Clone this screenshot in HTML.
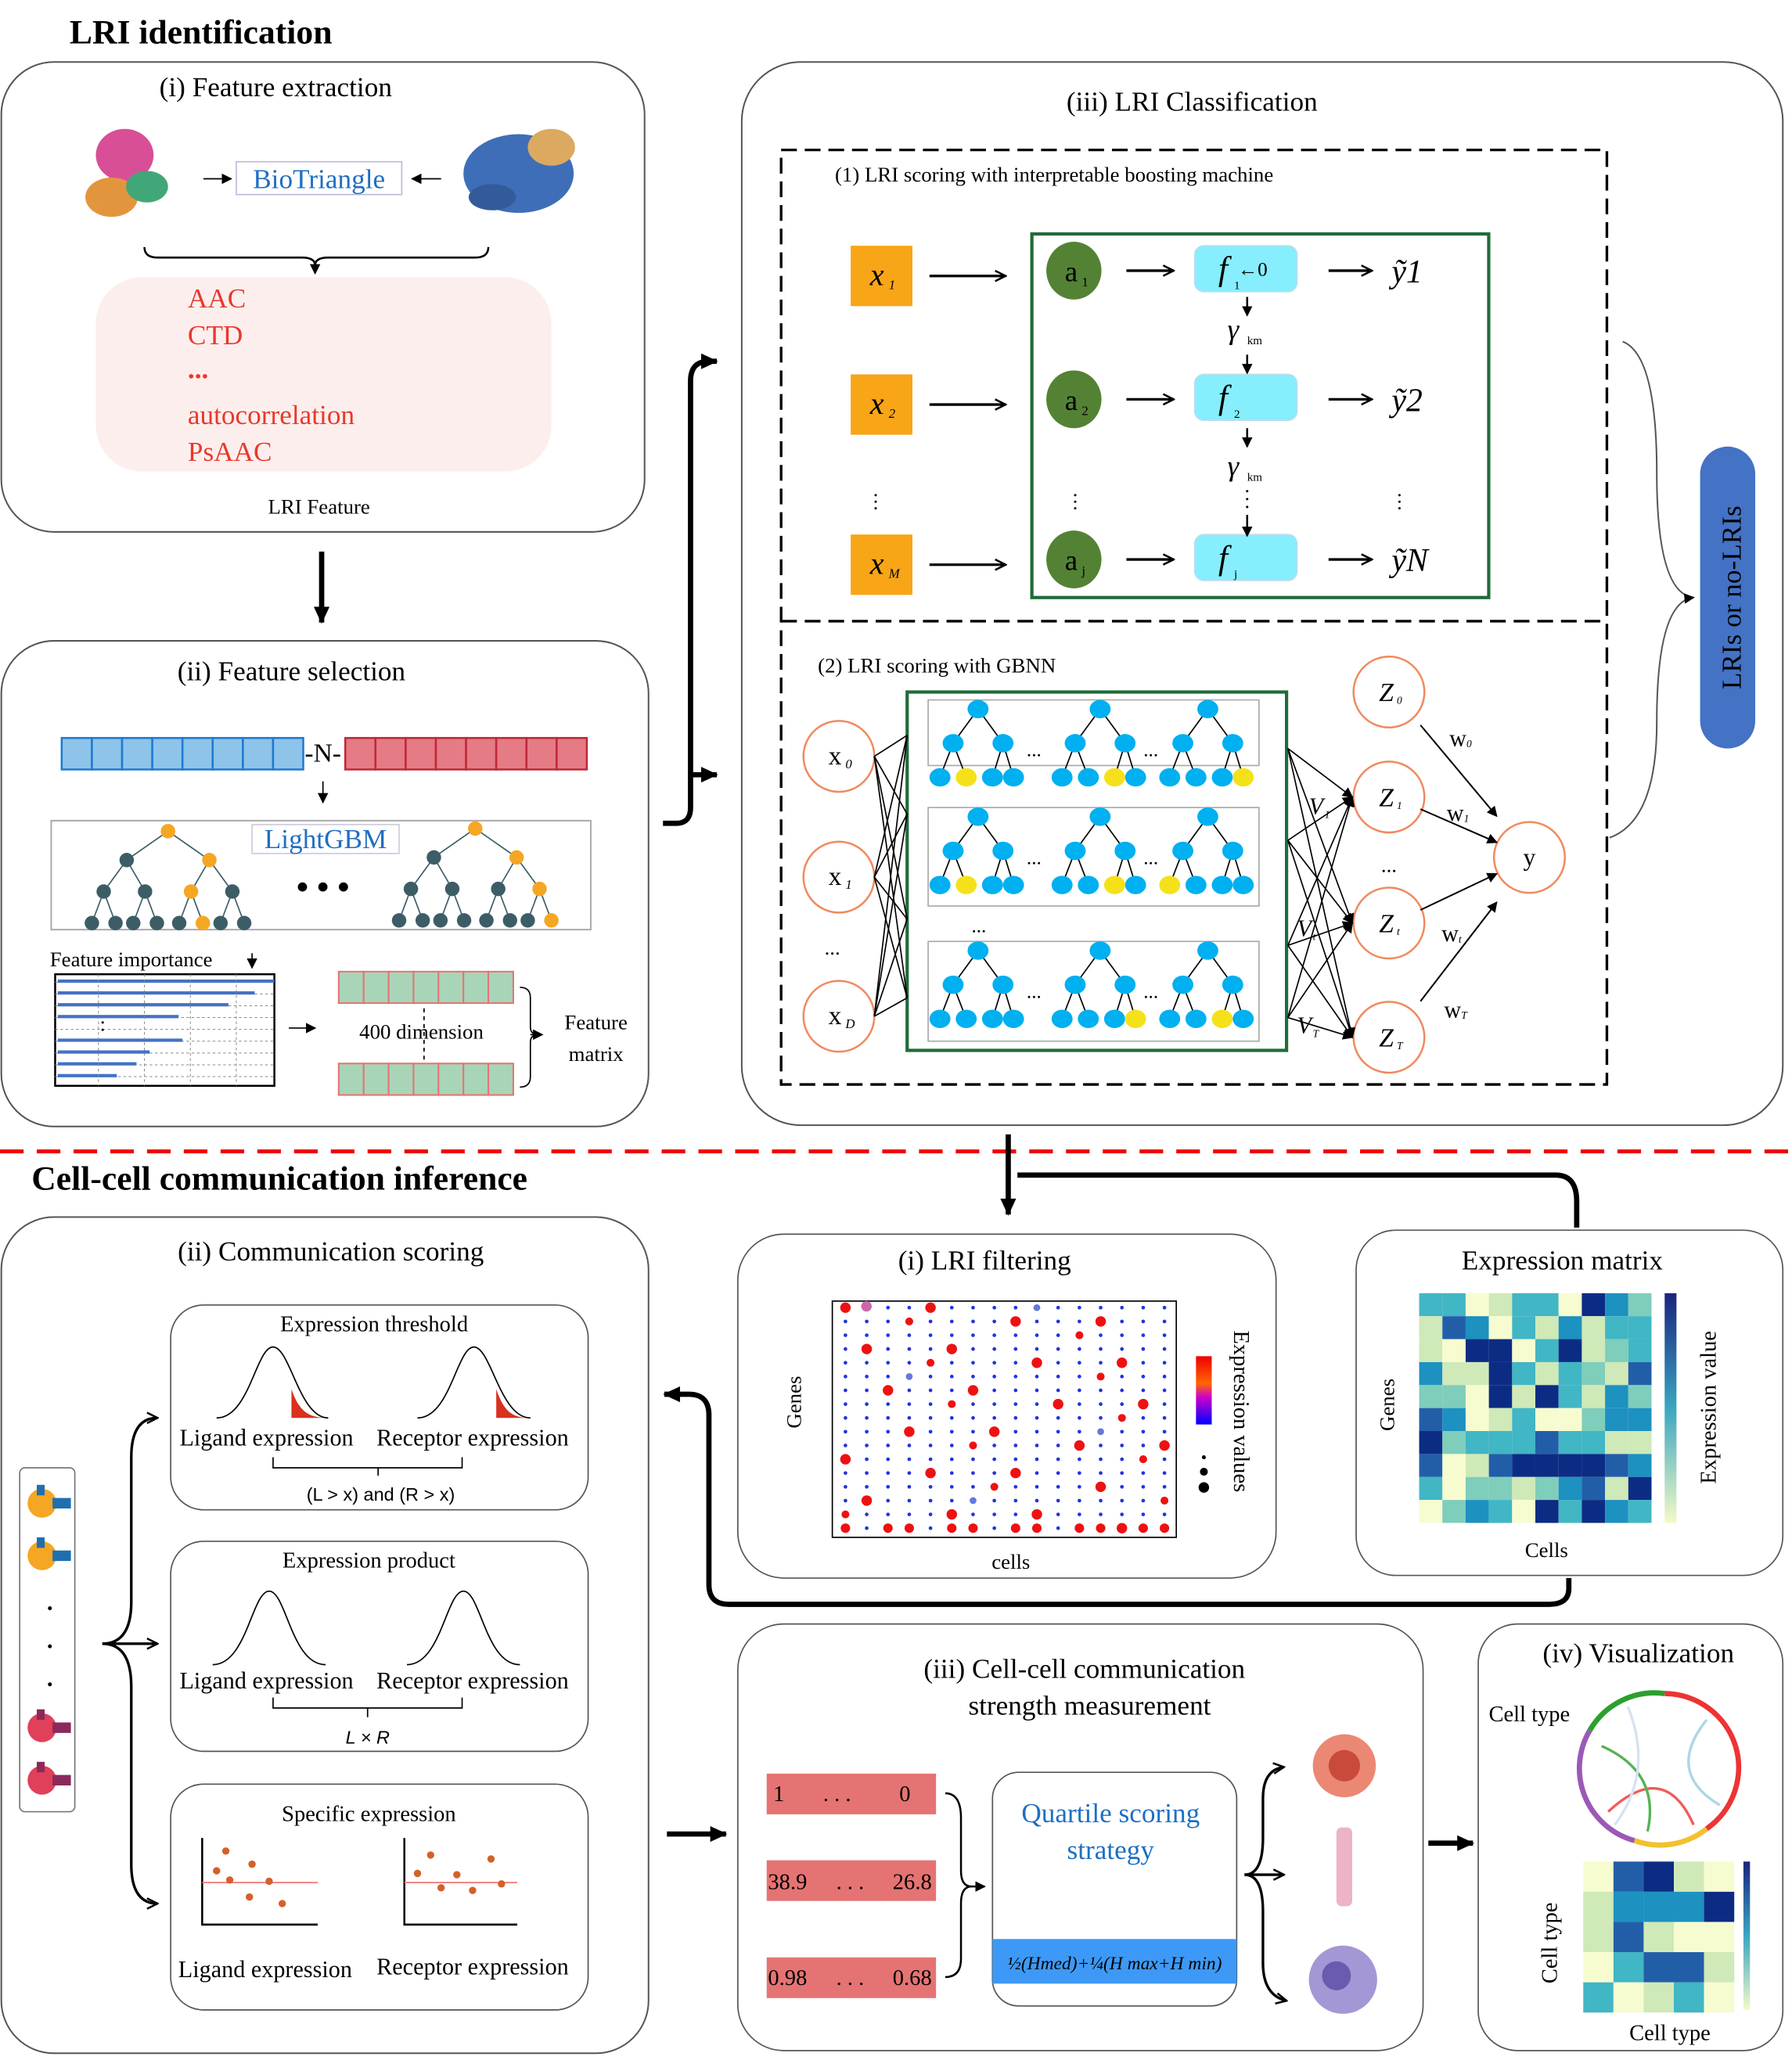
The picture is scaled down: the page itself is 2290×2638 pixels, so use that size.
<!DOCTYPE html>
<html><head><meta charset="utf-8">
<style>
html,body{margin:0;padding:0;background:#fff}
svg{display:block}
text{font-family:"Liberation Serif",serif}
.sans{font-family:"Liberation Sans",sans-serif}
</style></head>
<body>
<svg id="s" width="2290" height="2638" viewBox="0 0 1365 1572" xmlns="http://www.w3.org/2000/svg">
<defs>
<marker id="ah" markerWidth="8" markerHeight="8" refX="7" refY="4" orient="auto" markerUnits="userSpaceOnUse"><path d="M0,0 L8,4 L0,8 z" fill="#000"/></marker>
<marker id="ahs" markerWidth="10" markerHeight="10" refX="9" refY="5" orient="auto" markerUnits="userSpaceOnUse"><path d="M1,1 L9,5 L1,9" fill="none" stroke="#000" stroke-width="1.5"/></marker>
<marker id="ahb" markerWidth="14" markerHeight="14" refX="12" refY="7" orient="auto" markerUnits="userSpaceOnUse"><path d="M0,1 L13,7 L0,13 z" fill="#000"/></marker>
<linearGradient id="rb" x1="0" y1="0" x2="0" y2="1"><stop offset="0" stop-color="#e00"/><stop offset=".4" stop-color="#f60"/><stop offset=".6" stop-color="#c0c"/><stop offset="1" stop-color="#00f"/></linearGradient>
<linearGradient id="bl" x1="0" y1="0" x2="0" y2="1"><stop offset="0" stop-color="#1a237e"/><stop offset=".5" stop-color="#3aa6c0"/><stop offset="1" stop-color="#f4f9c8"/></linearGradient>
</defs>

<text x="53" y="33" font-size="26" font-weight="bold">LRI identification</text>
<text x="24" y="906" font-size="26" font-weight="bold">Cell-cell communication inference</text>
<line x1="0" y1="877" x2="1365" y2="877" stroke="#e00" stroke-width="3" stroke-dasharray="18,10"/>

<rect x="1" y="47" width="490" height="358" rx="40" fill="#fff" stroke="#555" stroke-width="1.2"/>
<text x="210" y="73" font-size="21" text-anchor="middle">(i) Feature extraction</text>
<g opacity=".9">
<ellipse cx="95" cy="118" rx="22" ry="20" fill="#d43d8c"/>
<ellipse cx="85" cy="150" rx="20" ry="15" fill="#e08a2a"/>
<ellipse cx="112" cy="142" rx="16" ry="12" fill="#2e9e6a"/>
<ellipse cx="395" cy="132" rx="42" ry="30" fill="#2a5fb0"/>
<ellipse cx="420" cy="112" rx="18" ry="14" fill="#d9a050"/>
<ellipse cx="375" cy="150" rx="18" ry="10" fill="#1e4a90"/>
</g>
<line x1="155" y1="136" x2="176" y2="136" stroke="#000" marker-end="url(#ah)"/>
<line x1="336" y1="136" x2="314" y2="136" stroke="#000" marker-end="url(#ah)"/>
<rect x="180" y="123" width="126" height="25" fill="none" stroke="#bbd"/>
<text x="243" y="143" font-size="21" fill="#1f6fc2" text-anchor="middle">BioTriangle</text>
<path d="M110,188 q0,8 10,8 L230,196 q10,0 10,6 q0,-6 10,-6 L362,196 q10,0 10,-8" fill="none" stroke="#000" stroke-width="1.5"/>
<line x1="240" y1="200" x2="240" y2="208" stroke="#000" marker-end="url(#ah)"/>
<rect x="73" y="211" width="347" height="148" rx="35" fill="#fdeeee"/>
<g font-size="21" fill="#e8392b">
<text x="143" y="234">AAC</text><text x="143" y="262">CTD</text><text x="143" y="288" font-weight="bold">...</text>
<text x="143" y="323">autocorrelation</text><text x="143" y="351">PsAAC</text></g>
<text x="243" y="391" font-size="16" text-anchor="middle">LRI Feature</text>

<line x1="245" y1="420" x2="245" y2="474" stroke="#000" stroke-width="4" marker-end="url(#ahb)"/>

<rect x="1" y="488" width="493" height="370" rx="40" fill="#fff" stroke="#555" stroke-width="1.2"/>
<text x="222" y="518" font-size="21" text-anchor="middle">(ii) Feature selection</text>
<g id="bars"></g>
<text x="246" y="580" font-size="20" text-anchor="middle">-N-</text>
<line x1="246" y1="595" x2="246" y2="611" stroke="#000" marker-end="url(#ah)"/>
<rect x="39" y="625" width="411" height="83" fill="none" stroke="#aaa" stroke-width="1.2"/>
<g id="lgbm"></g>
<rect x="192" y="628" width="112" height="22" fill="none" stroke="#ccd"/>
<text x="248" y="646" font-size="21" fill="#1f6fc2" text-anchor="middle">LightGBM</text>
<text x="246" y="684" font-size="26" text-anchor="middle" font-weight="bold">• • •</text>
<text x="38" y="736" font-size="16">Feature importance</text>
<line x1="192" y1="726" x2="192" y2="737" stroke="#000" marker-end="url(#ah)"/>
<rect x="42" y="742" width="167" height="85" fill="#fff" stroke="#000" stroke-width="1.5"/>
<g id="imp"></g>
<line x1="220" y1="783" x2="240" y2="783" stroke="#000" marker-end="url(#ah)"/>
<g id="fm"></g>
<text x="321" y="791" font-size="16" text-anchor="middle" fill="#000">400 dimension</text>
<path d="M396,752 q8,0 8,8 L404,782 q0,6 6,6 q-6,0 -6,6 L404,820 q0,8 -8,8" fill="none" stroke="#000"/>
<line x1="404" y1="788" x2="413" y2="788" stroke="#000" marker-end="url(#ah)"/>
<text x="454" y="784" font-size="16" text-anchor="middle">Feature</text>
<text x="454" y="808" font-size="16" text-anchor="middle">matrix</text>

<path d="M505,627 L515,627 Q526,627 526,615 L526,290 Q526,275 540,275 L546,275" fill="none" stroke="#000" stroke-width="4" marker-end="url(#ahb)"/>
<path d="M526,590 L546,590" fill="none" stroke="#000" stroke-width="4" marker-end="url(#ahb)"/>

<rect x="565" y="47" width="793" height="810" rx="45" fill="#fff" stroke="#555" stroke-width="1.2"/>
<text x="908" y="84" font-size="21" text-anchor="middle">(iii) LRI Classification</text>
<rect x="595" y="114" width="629" height="712" fill="none" stroke="#000" stroke-width="2" stroke-dasharray="12,6"/>
<line x1="595" y1="473" x2="1224" y2="473" stroke="#000" stroke-width="2" stroke-dasharray="12,6"/>
<text x="636" y="138" font-size="16">(1) LRI scoring with interpretable boosting machine</text>
<rect x="786" y="178" width="348" height="277" fill="none" stroke="#1f6b3a" stroke-width="2.5"/>
<g id="ebm"></g>
<rect x="1295" y="340" width="42" height="230" rx="21" fill="#4472c4"/>
<text transform="translate(1326,455) rotate(-90)" font-size="21" fill="#000" text-anchor="middle">LRIs  or no-LRIs</text>
<path d="M1236,260 Q1262,270 1262,360 Q1262,452 1290,455" fill="none" stroke="#555" stroke-width="1.2"/>
<path d="M1226,638 Q1262,625 1262,550 Q1262,458 1290,455" fill="none" stroke="#555" stroke-width="1.2" marker-end="url(#ah)"/>

<text x="623" y="512" font-size="16">(2) LRI scoring with GBNN</text>
<rect x="691" y="527" width="289" height="273" fill="none" stroke="#1f6b3a" stroke-width="2.5"/>
<g id="gbnn"></g>

<path d="M1201,935 L1201,915 Q1201,895 1185,895 L775,895" fill="none" stroke="#000" stroke-width="4"/>
<line x1="768" y1="864" x2="768" y2="925" stroke="#000" stroke-width="4" marker-end="url(#ahb)"/>

<rect x="1" y="927" width="493" height="637" rx="40" fill="#fff" stroke="#555" stroke-width="1.2"/>
<text x="252" y="960" font-size="21" text-anchor="middle">(ii) Communication scoring</text>
<rect x="15" y="1118" width="42" height="262" rx="4" fill="#fff" stroke="#777"/>
<g id="cells"></g>
<path d="M78,1252 Q100,1252 100,1220 L100,1110 Q100,1080 120,1080" fill="none" stroke="#000" stroke-width="2" marker-end="url(#ahs)"/>
<path d="M78,1252 Q100,1252 100,1285 L100,1420 Q100,1450 120,1450" fill="none" stroke="#000" stroke-width="2" marker-end="url(#ahs)"/>
<line x1="78" y1="1252" x2="120" y2="1252" stroke="#000" stroke-width="2" marker-end="url(#ahs)"/>

<rect x="130" y="994" width="318" height="156" rx="25" fill="#fff" stroke="#555"/>
<text x="285" y="1014" font-size="17" text-anchor="middle">Expression threshold</text>
<path d="M165,1080 C190,1080 195,1026 208,1026 C221,1026 228,1080 250,1080" fill="none" stroke="#000"/>
<path d="M222,1058 C228,1076 236,1080 250,1080 L222,1080 Z" fill="#d93020"/>
<path d="M318,1080 C343,1080 348,1026 361,1026 C374,1026 381,1080 404,1080" fill="none" stroke="#000"/>
<path d="M378,1058 C384,1076 391,1080 404,1080 L378,1080 Z" fill="#d93020"/>
<text x="203" y="1101" font-size="18" text-anchor="middle">Ligand expression</text>
<text x="360" y="1101" font-size="18" text-anchor="middle">Receptor expression</text>
<path d="M208,1110 L208,1118 L352,1118 L352,1110 M288,1118 L288,1124" fill="none" stroke="#000"/>
<text x="290" y="1143" font-size="14" class="sans" text-anchor="middle">(L &gt; x) and (R &gt; x)</text>

<rect x="130" y="1174" width="318" height="160" rx="25" fill="#fff" stroke="#555"/>
<text x="281" y="1194" font-size="17" text-anchor="middle">Expression product</text>
<path d="M162,1268 C188,1268 192,1212 205,1212 C218,1212 222,1268 248,1268" fill="none" stroke="#000"/>
<path d="M310,1268 C336,1268 340,1212 353,1212 C366,1212 370,1268 396,1268" fill="none" stroke="#000"/>
<text x="203" y="1286" font-size="18" text-anchor="middle">Ligand expression</text>
<text x="360" y="1286" font-size="18" text-anchor="middle">Receptor expression</text>
<path d="M208,1293 L208,1301 L352,1301 L352,1293 M280,1301 L280,1308" fill="none" stroke="#000"/>
<text x="280" y="1328" font-size="14" class="sans" font-style="italic" text-anchor="middle">L × R</text>

<rect x="130" y="1359" width="318" height="172" rx="25" fill="#fff" stroke="#555"/>
<text x="281" y="1387" font-size="17" text-anchor="middle">Specific expression</text>
<path d="M154,1400 L154,1466 L242,1466 M308,1400 L308,1466 L394,1466" fill="none" stroke="#000" stroke-width="1.5"/>
<line x1="154" y1="1434" x2="242" y2="1434" stroke="#e77" /><line x1="308" y1="1434" x2="394" y2="1434" stroke="#e77"/>
<g fill="#d4602a" id="sct"></g>
<text x="202" y="1506" font-size="18" text-anchor="middle">Ligand expression</text>
<text x="360" y="1504" font-size="18" text-anchor="middle">Receptor expression</text>

<rect x="562" y="940" width="410" height="262" rx="35" fill="#fff" stroke="#555"/>
<text x="750" y="967" font-size="21" text-anchor="middle">(i) LRI filtering</text>
<rect x="634" y="991" width="262" height="180" fill="#fff" stroke="#000"/>
<g id="dots"></g>
<text transform="translate(610,1068) rotate(-90)" font-size="16" text-anchor="middle">Genes</text>
<text x="770" y="1195" font-size="16" text-anchor="middle">cells</text>
<rect x="911" y="1033" width="12" height="52" fill="url(#rb)"/>
<circle cx="917" cy="1110" r="1.5"/><circle cx="917" cy="1121" r="3"/><circle cx="917" cy="1133" r="4"/>
<text transform="translate(940,1075) rotate(90)" font-size="17" text-anchor="middle">Expression values</text>

<rect x="1033" y="937" width="325" height="263" rx="30" fill="#fff" stroke="#555"/>
<text x="1190" y="967" font-size="21" text-anchor="middle">Expression matrix</text>
<g id="hm1"></g>
<rect x="1268" y="985" width="9" height="175" fill="url(#bl)"/>
<text transform="translate(1062,1070) rotate(-90)" font-size="16" text-anchor="middle">Genes</text>
<text x="1178" y="1186" font-size="16" text-anchor="middle">Cells</text>
<text transform="translate(1307,1072) rotate(-90)" font-size="17" text-anchor="middle">Expression value</text>

<path d="M1195,1202 L1195,1210 Q1195,1222 1180,1222 L555,1222 Q540,1222 540,1207 L540,1078 Q540,1062 525,1062 L506,1062" fill="none" stroke="#000" stroke-width="4" marker-end="url(#ahb)"/>

<line x1="508" y1="1397" x2="553" y2="1397" stroke="#000" stroke-width="4" marker-end="url(#ahb)"/>
<rect x="562" y="1237" width="522" height="325" rx="35" fill="#fff" stroke="#555"/>
<text x="826" y="1278" font-size="21" text-anchor="middle">(iii) Cell-cell communication</text>
<text x="830" y="1306" font-size="21" text-anchor="middle">strength measurement</text>
<rect x="584" y="1351" width="129" height="31" fill="#e57373"/>
<rect x="584" y="1417" width="129" height="31" fill="#e57373"/>
<rect x="584" y="1491" width="129" height="31" fill="#e57373"/>
<g font-size="17"><text x="589" y="1372">1</text><text x="627" y="1372">. . .</text><text x="685" y="1372">0</text>
<text x="585" y="1439">38.9</text><text x="637" y="1439">. . .</text><text x="680" y="1439">26.8</text>
<text x="585" y="1512">0.98</text><text x="637" y="1512">. . .</text><text x="680" y="1512">0.68</text></g>
<path d="M720,1366 Q732,1366 732,1385 L732,1425 Q732,1437 740,1437 Q732,1437 732,1450 L732,1492 Q732,1506 720,1506" fill="none" stroke="#000" stroke-width="1.5"/>
<line x1="740" y1="1437" x2="750" y2="1437" stroke="#000" stroke-width="1.5" marker-end="url(#ah)"/>
<rect x="756" y="1350" width="186" height="178" rx="20" fill="#fff" stroke="#555"/>
<text x="846" y="1388" font-size="21" fill="#1f6fc2" text-anchor="middle">Quartile scoring</text>
<text x="846" y="1416" font-size="21" fill="#1f6fc2" text-anchor="middle">strategy</text>
<rect x="756" y="1477" width="186" height="34" fill="#3d99f5"/>
<text x="849" y="1500" font-size="14" font-style="italic" text-anchor="middle">½(Hmed)+¼(H max+H min)</text>
<path d="M948,1428 Q962,1428 962,1400 L962,1370 Q962,1348 978,1346" fill="none" stroke="#000" stroke-width="2" marker-end="url(#ahs)"/>
<path d="M948,1428 Q962,1428 962,1456 L962,1495 Q962,1520 980,1524" fill="none" stroke="#000" stroke-width="2" marker-end="url(#ahs)"/>
<line x1="948" y1="1428" x2="978" y2="1428" stroke="#000" stroke-width="2" marker-end="url(#ahs)"/>
<circle cx="1024" cy="1345" r="24" fill="#e8735a" opacity=".85"/><circle cx="1024" cy="1345" r="12" fill="#c94a3a"/>
<rect x="1018" y="1392" width="12" height="60" rx="4" fill="#e8a0b8" opacity=".8"/>
<circle cx="1023" cy="1508" r="26" fill="#a596d6"/><circle cx="1018" cy="1505" r="11" fill="#6a5ab0"/>

<line x1="1088" y1="1404" x2="1122" y2="1404" stroke="#000" stroke-width="4" marker-end="url(#ahb)"/>
<rect x="1126" y="1237" width="232" height="325" rx="30" fill="#fff" stroke="#555"/>
<text x="1248" y="1266" font-size="21" text-anchor="middle">(iv) Visualization</text>
<text x="1134" y="1311" font-size="17">Cell type</text>
<g fill="none" stroke-width="4">
<path d="M1211,1318 A57,57 0 0 1 1268,1290" stroke="#2ca02c"/>
<path d="M1268,1290 A57,57 0 0 1 1322,1330" stroke="#e33"/>
<path d="M1322,1330 A57,57 0 0 1 1300,1393" stroke="#e33"/>
<path d="M1300,1393 A57,57 0 0 1 1245,1402" stroke="#f2c12e"/>
<path d="M1245,1402 A57,57 0 0 1 1211,1318" stroke="#9b59b6"/>
</g>
<g fill="none" stroke-width="2" opacity=".8">
<path d="M1225,1380 Q1268,1340 1290,1390" stroke="#e33"/>
<path d="M1220,1330 Q1265,1350 1255,1395" stroke="#2ca02c"/>
<path d="M1300,1310 Q1268,1350 1310,1375" stroke="#9cd"/>
<path d="M1240,1300 Q1260,1350 1230,1390" stroke="#cde"/>
</g>
<g id="hm2"></g>
<rect x="1328" y="1418" width="5" height="113" fill="url(#bl)"/>
<text transform="translate(1186,1480) rotate(-90)" font-size="17" text-anchor="middle">Cell type</text>
<text x="1272" y="1554" font-size="17" text-anchor="middle">Cell type</text>
</svg>
<script>
const S=document.getElementById('s'),NS='http://www.w3.org/2000/svg';
function el(p,t,a){const e=document.createElementNS(NS,t);for(const k in a)e.setAttribute(k,a[k]);(typeof p==='string'?document.getElementById(p):p).appendChild(e);return e}
for(let i=0;i<8;i++){el('bars','rect',{x:47+i*23,y:562,width:23,height:24,fill:'#8ec4ea',stroke:'#1f7ad0','stroke-width':1.5});el('bars','rect',{x:263+i*23,y:562,width:23,height:24,fill:'#e57b84',stroke:'#c0283a','stroke-width':1.5})}
function tree(g,x,y,w,hl){const c='#3d5d66',o='#f5a623';const n=[[x-w*0.45,y+22],[x+w*0.45,y+22]];
const lv2=[[x-w*0.7,y+46],[x-w*0.25,y+46],[x+w*0.25,y+46],[x+w*0.7,y+46]];
const lv3=[];lv2.forEach(p=>{lv3.push([p[0]-9,p[1]+24],[p[0]+9,p[1]+24])});
n.forEach(p=>el(g,'line',{x1:x,y1:y,x2:p[0],y2:p[1],stroke:c}));
lv2.forEach((p,i)=>el(g,'line',{x1:n[i>>1][0],y1:n[i>>1][1],x2:p[0],y2:p[1],stroke:c}));
lv3.forEach((p,i)=>el(g,'line',{x1:lv2[i>>1][0],y1:lv2[i>>1][1],x2:p[0],y2:p[1],stroke:c}));
[[x,y]].concat(n,lv2,lv3).forEach((p,i)=>el(g,'circle',{cx:p[0],cy:p[1],r:5.5,fill:(i==0||hl.includes(i))?o:c}));}
tree('lgbm',128,633,70,[2,5,12]);tree('lgbm',362,631,70,[2,6,14]);
for(let i=0;i<9;i++){const y=748+i*9;el('imp','line',{x1:42,y1:y,x2:209,y2:y,stroke:'#888','stroke-dasharray':'2,2','stroke-width':.6});}
[165,150,130,92,0,95,70,60,45].forEach((w,i)=>{if(w)el('imp','rect',{x:44,y:746+i*9,width:w,height:2.5,fill:'#4472c4'})});
for(let i=0;i<4;i++)el('imp','line',{x1:75+i*35,y1:742,x2:75+i*35,y2:827,stroke:'#888','stroke-dasharray':'2,2','stroke-width':.6});
el('imp','text',{x:76,y:785,'font-size':16}).textContent=':';
for(let r=0;r<2;r++)for(let i=0;i<7;i++)el('fm','rect',{x:258+i*19,y:r?810:740,width:19,height:24,fill:'#a8d5b8',stroke:'#e57373','stroke-width':1.2});
el('fm','line',{x1:323,y1:768,x2:323,y2:808,stroke:'#000','stroke-dasharray':'3,3'});
const eb=document.getElementById('ebm');
[[210,'1'],[308,'2'],[430,'M']].forEach((r,i)=>{const y=r[0];
el(eb,'rect',{x:648,y:y-23,width:47,height:46,fill:'#f8a518'});
el(eb,'text',{x:668,y:y+7,'font-size':24,'font-style':'italic','text-anchor':'middle'}).textContent='x';
el(eb,'text',{x:677,y:y+10,'font-size':10,'font-style':'italic'}).textContent=r[1];
el(eb,'line',{x1:708,y1:y,x2:766,y2:y,stroke:'#000','stroke-width':2,'marker-end':'url(#ahs)'});
el(eb,'ellipse',{cx:818,cy:y-4,rx:21,ry:22,fill:'#548235'});
el(eb,'text',{x:816,y:y+4,'font-size':22,'text-anchor':'middle'}).textContent='a';
el(eb,'text',{x:824,y:y+8,'font-size':10}).textContent=['1','2','j'][i];
el(eb,'line',{x1:858,y1:y-4,x2:894,y2:y-4,stroke:'#000','stroke-width':2,'marker-end':'url(#ahs)'});
el(eb,'rect',{x:910,y:y-23,width:78,height:35,rx:7,fill:'#86eefc',stroke:'#bde'});
el(eb,'text',{x:928,y:y+3,'font-size':26,'font-style':'italic'}).textContent='f';
el(eb,'text',{x:940,y:y+10,'font-size':9}).textContent=['1','2','j'][i];
if(i==0)el(eb,'text',{x:943,y:y,'font-size':15}).textContent='←0';
el(eb,'line',{x1:1012,y1:y-4,x2:1045,y2:y-4,stroke:'#000','stroke-width':2,'marker-end':'url(#ahs)'});
el(eb,'text',{x:1060,y:y+5,'font-size':25,'font-style':'italic'}).textContent=['ỹ1','ỹ2','ỹN'][i];});
function gam(y){el(eb,'text',{x:935,y:y,'font-size':22,'font-style':'italic'}).textContent='γ';el(eb,'text',{x:950,y:y+4,'font-size':9}).textContent='km';}
el(eb,'line',{x1:950,y1:226,x2:950,y2:240,stroke:'#000','stroke-width':1.5,'marker-end':'url(#ah)'});gam(258);
el(eb,'line',{x1:950,y1:270,x2:950,y2:284,stroke:'#000','stroke-width':1.5,'marker-end':'url(#ah)'});
el(eb,'line',{x1:950,y1:326,x2:950,y2:340,stroke:'#000','stroke-width':1.5,'marker-end':'url(#ah)'});gam(362);
el(eb,'line',{x1:950,y1:392,x2:950,y2:408,stroke:'#000','stroke-width':1.5,'marker-end':'url(#ah)'});
[667,819,1066].forEach(x=>{for(let k=0;k<3;k++)el(eb,'circle',{cx:x,cy:377+k*5,r:.9,fill:'#000'})});
for(let k=0;k<3;k++)el(eb,'circle',{cx:950,cy:374+k*6,r:.9,fill:'#000'});
const gb=document.getElementById('gbnn'),B='#00b0f0',Y='#f5e11a';
[[639,576,'0'],[639,668,'1'],[639,774,'D']].forEach(n=>{el(gb,'circle',{cx:n[0],cy:n[1],r:27,fill:'#fff',stroke:'#f08a60','stroke-width':1.5});
el(gb,'text',{x:n[0]-3,y:n[1]+6,'font-size':20,'text-anchor':'middle'}).textContent='x';
el(gb,'text',{x:n[0]+5,y:n[1]+9,'font-size':10,'font-style':'italic'}).textContent=n[2];});
el(gb,'text',{x:628,y:727,'font-size':16}).textContent='...';
[[707,533,583],[707,615,690],[707,717,793]].forEach(r=>el(gb,'rect',{x:r[0],y:r[1],width:252,height:r[2]-r[1],fill:'#fff',stroke:'#aaa'}));
[576,668,774].forEach(y=>{[560,620,700,760].forEach(t=>el(gb,'line',{x1:666,y1:y,x2:691,y2:t,stroke:'#000','stroke-width':1}))});
function st(x,y,w,yl){const pts=[[x,y],[x-w,y+26],[x+w,y+26]];
el(gb,'line',{x1:x,y1:y,x2:x-w,y2:y+26,stroke:'#000'});el(gb,'line',{x1:x,y1:y,x2:x+w,y2:y+26,stroke:'#000'});
[-10,10].forEach(d=>el(gb,'line',{x1:x-w,y1:y+26,x2:x-w+d,y2:y+52,stroke:'#000'}));
[-8,8].forEach(d=>el(gb,'line',{x1:x+w,y1:y+26,x2:x+w+d,y2:y+52,stroke:'#000'}));
pts.forEach(p=>el(gb,'ellipse',{cx:p[0],cy:p[1],rx:8,ry:7,fill:B}));
[x-w-10,x-w+10,x+w-8,x+w+8].forEach((px,i)=>el(gb,'ellipse',{cx:px,cy:y+52,rx:8,ry:7,fill:yl.includes(i)?Y:B}));}
[540,622,724].forEach((y,k)=>{
st(745,y,19,k==0?[1]:k==1?[1]:[]);st(838,y,19,k==0?[2]:k==1?[2]:[3]);st(920,y,19,k==0?[3]:k==1?[0]:[2]);
el(gb,'text',{x:782,y:y+36,'font-size':15}).textContent='...';el(gb,'text',{x:871,y:y+36,'font-size':15}).textContent='...';});
el(gb,'text',{x:740,y:710,'font-size':15}).textContent='...';
const Z=[[1058,527,'0'],[1058,607,'1'],[1058,703,'t'],[1058,790,'T']];
Z.forEach(z=>{el(gb,'circle',{cx:z[0],cy:z[1],r:27,fill:'#fff',stroke:'#f08a60','stroke-width':1.5});
el(gb,'text',{x:z[0]-2,y:z[1]+7,'font-size':20,'font-style':'italic','text-anchor':'middle'}).textContent='Z';
el(gb,'text',{x:z[0]+6,y:z[1]+9,'font-size':8,'font-style':'italic'}).textContent=z[2];});
el(gb,'text',{x:1052,y:664,'font-size':16}).textContent='...';
[570,640,720,775].forEach(y0=>{[607,703,790].forEach(zy=>el(gb,'line',{x1:981,y1:y0,x2:1030,y2:zy,stroke:'#000','stroke-width':1,'marker-end':'url(#ah)'}))});
[['1',997,620],['t',988,713],['T',988,787]].forEach(v=>{el(gb,'text',{x:v[1],y:v[2],'font-size':18,'font-style':'italic'}).textContent='V';el(gb,'text',{x:v[1]+12,y:v[2]+3,'font-size':8,'font-style':'italic'}).textContent=v[0];});
el(gb,'circle',{cx:1165,cy:653,r:27,fill:'#fff',stroke:'#f08a60','stroke-width':1.5});
el(gb,'text',{x:1165,y:659,'font-size':19,'text-anchor':'middle'}).textContent='y';
Z.forEach(z=>el(gb,'line',{x1:z[0]+24,y1:z[1]+(653-z[1])*0.2,x2:1140,y2:653+(z[1]-653)*0.25,stroke:'#000','stroke-width':1.2,'marker-end':'url(#ah)'}));
[['0',1104,568],['1',1102,625],['t',1098,717],['T',1100,775]].forEach(w=>{el(gb,'text',{x:w[1],y:w[2],'font-size':18}).textContent='w';el(gb,'text',{x:w[1]+13,y:w[2]+1,'font-size':8,'font-style':'italic'}).textContent=w[0];});
const cg=document.getElementById('cells');
[[1145,'#f5a623','#1f6fb0'],[1185,'#f5a623','#1f6fb0'],[1316,'#e0405a','#8b2a5a'],[1356,'#e0405a','#8b2a5a']].forEach(c=>{
el(cg,'circle',{cx:32,cy:c[0],r:11,fill:c[1]});el(cg,'rect',{x:40,y:c[0]-4,width:14,height:8,fill:c[2]});el(cg,'rect',{x:28,y:c[0]-14,width:6,height:8,fill:c[2]})});
[1225,1254,1283].forEach(y=>el(cg,'circle',{cx:38,cy:y,r:1.5,fill:'#000'}));
[[172,1410],[192,1420],[205,1433],[190,1445],[175,1432],[215,1450],[165,1425],[328,1413],[348,1428],[360,1440],[336,1438],[374,1416],[318,1427],[382,1435]].forEach(p=>el('sct','circle',{cx:p[0],cy:p[1],r:2.8}));
const dg=document.getElementById('dots');
for(let c=0;c<16;c++)for(let r=0;r<17;r++){const x=644+c*16.2,y=996+r*10.5;let col='#2233dd',rad=1.4;
const h=(c*7+r*13)%23;if(h==0||h==5){col='#ee1111';rad=4}else if(h==11){col='#ee1111';rad=3}else if(h==17&&c%3==0){col='#6677dd';rad=2.6}
if(r==16&&c%3!=1){col='#ee1111';rad=3.6}
el(dg,'circle',{cx:x,cy:y,r:rad,fill:col});}
el(dg,'circle',{cx:660,cy:995,r:4,fill:'#cc66aa'});
const pal=['#f7fcd0','#cfe9b8','#7fcdbb','#41b6c4','#1d91c0','#225ea8','#0c2c84'];
let sd=7;function rn(){sd=(sd*9301+49297)%233280;return sd/233280}
for(let r=0;r<10;r++)for(let c=0;c<10;c++)el('hm1','rect',{x:1081+c*17.7,y:985+r*17.5,width:17.7,height:17.5,fill:pal[Math.floor(rn()*7)]});
for(let r=0;r<5;r++)for(let c=0;c<5;c++)el('hm2','rect',{x:1206+c*23,y:1418+r*23,width:23,height:23,fill:pal[Math.floor(rn()*7)]});
</script>
</body></html>
